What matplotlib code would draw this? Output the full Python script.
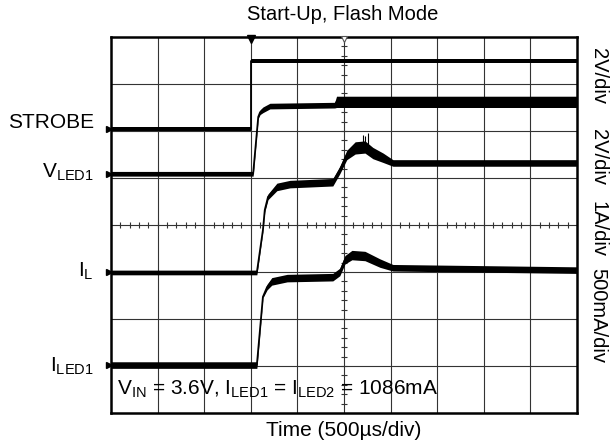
import numpy as np
import matplotlib.pyplot as plt

plt.rcParams['font.family'] = ['Liberation Sans', 'DejaVu Sans']
plt.rcParams['mathtext.fontset'] = 'custom'
plt.rcParams['mathtext.rm'] = 'Liberation Sans'

# traces in scope divisions (x: 0..10, y: 0..8 from bottom)
strobe_x = [0, 3.0, 3.0, 10]
strobe_y = [6.04, 6.04, 7.49, 7.49]
strobe_w = [0.05, 0.05, 0.05, 0.05]

vled_x = [0, 3.05, 3.16, 3.20, 3.26, 3.41, 4.80, 4.84, 10]
vled_y = [5.09, 5.09, 6.30, 6.40, 6.45, 6.53, 6.55, 6.62, 6.62]
vled_w = [0.05, 0.05, 0.03, 0.05, 0.06, 0.06, 0.06, 0.12, 0.12]

il_x = [0, 3.13, 3.26, 3.30, 3.37, 3.56, 3.84, 4.76, 4.91, 5.06, 5.24, 5.45, 5.62, 5.84, 6.05, 10]
il_y = [2.99, 2.99, 3.89, 4.32, 4.60, 4.81, 4.87, 4.91, 5.17, 5.49, 5.64, 5.66, 5.53, 5.43, 5.32, 5.32]
il_w = [0.05, 0.05, 0.02, 0.04, 0.06, 0.08, 0.08, 0.08, 0.08, 0.10, 0.13, 0.13, 0.12, 0.10, 0.07, 0.07]

iled_x = [0, 3.13, 3.26, 3.35, 3.45, 3.78, 4.76, 4.91, 5.02, 5.17, 5.45, 5.77, 6.05, 10]
iled_y = [1.02, 1.02, 2.47, 2.68, 2.80, 2.87, 2.89, 3.00, 3.26, 3.36, 3.34, 3.19, 3.09, 3.04]
iled_w = [0.07, 0.07, 0.02, 0.06, 0.08, 0.08, 0.08, 0.08, 0.09, 0.10, 0.10, 0.09, 0.07, 0.07]

il_spike_x = [5.41, 5.45, 5.51]
il_spike_top = [5.92, 5.90, 5.96]

left_labels = ['STROBE', r'$\mathregular{V_{LED1}}$', r'$\mathregular{I_L}$', r'$\mathregular{I_{LED1}}$']
left_label_py = [128, 178, 277, 372]
right_labels = ['2V/div', '2V/div', '1A/div', '500mA/div']
right_label_py = [76, 157, 229, 315]

W, H = 611, 445
fig = plt.figure(figsize=(W / 100, H / 100), dpi=100)
ax = fig.add_axes([111 / W, 1 - 413 / H, 466 / W, 376 / H])
ax.set_xlim(0, 10)
ax.set_ylim(0, 8)
ax.set_xticks([])
ax.set_yticks([])
for s in ax.spines.values():
    s.set_linewidth(1.8)

# graticule
for gx in range(1, 10):
    ax.axvline(gx, color='#333333', lw=0.8, zorder=1)
for gy in range(1, 8):
    ax.axhline(gy, color='#333333', lw=0.8, zorder=1)
tx = np.arange(0.2, 10, 0.2)
ty = np.arange(0.2, 8, 0.2)
ax.plot(tx, np.full_like(tx, 4), ls='none', marker='|', ms=5, mew=0.8, color='#333333', zorder=1)
ax.plot(np.full_like(ty, 5), ty, ls='none', marker='_', ms=5, mew=0.8, color='#333333', zorder=1)

# traces
for xs, ys, ws in [(strobe_x, strobe_y, strobe_w), (vled_x, vled_y, vled_w),
                   (il_x, il_y, il_w), (iled_x, iled_y, iled_w)]:
    xs, ys, ws = np.array(xs), np.array(ys), np.array(ws)
    ax.fill_between(xs, ys - ws, ys + ws, color='black', lw=0, zorder=3)
    ax.plot(xs, ys, color='black', lw=1.3, zorder=3)
ax.vlines(il_spike_x, 5.6, il_spike_top, color='black', lw=0.8, zorder=3)

# scope markers
ax.plot([3.0], [7.96], marker='v', ms=6, color='black', clip_on=False, zorder=4)
ax.plot([5.0], [7.95], marker='v', ms=5, mfc='white', mec='#555555', mew=0.8, clip_on=False, zorder=4)
ax.plot([-0.04] * 4, [strobe_y[0], vled_y[0], il_y[0], iled_y[0]], ls='none', marker='>',
        ms=5, color='black', clip_on=False, zorder=4)

# text
fs = 15
fig.text(343 / W, 1 - 15 / H, 'Start-Up, Flash Mode', ha='center', va='center', fontsize=14.5)
for lab, py in zip(left_labels, left_label_py):
    fig.text(94 / W, 1 - py / H, lab, ha='right', va='baseline', fontsize=fs)
for lab, py in zip(right_labels, right_label_py):
    fig.text(598 / W, 1 - py / H, lab, ha='center', va='center', rotation=-90, fontsize=14.5)
fig.text(117 / W, 1 - 395 / H,
         r'$\mathregular{V_{IN}}$ = 3.6V, $\mathregular{I_{LED1}}$ = $\mathregular{I_{LED2}}$ = 1086mA',
         ha='left', va='baseline', fontsize=fs)
fig.text(344 / W, 1 - 430 / H, 'Time (500\u00b5s/div)', ha='center', va='center', fontsize=fs)

fig.savefig('out.png', dpi=100)
